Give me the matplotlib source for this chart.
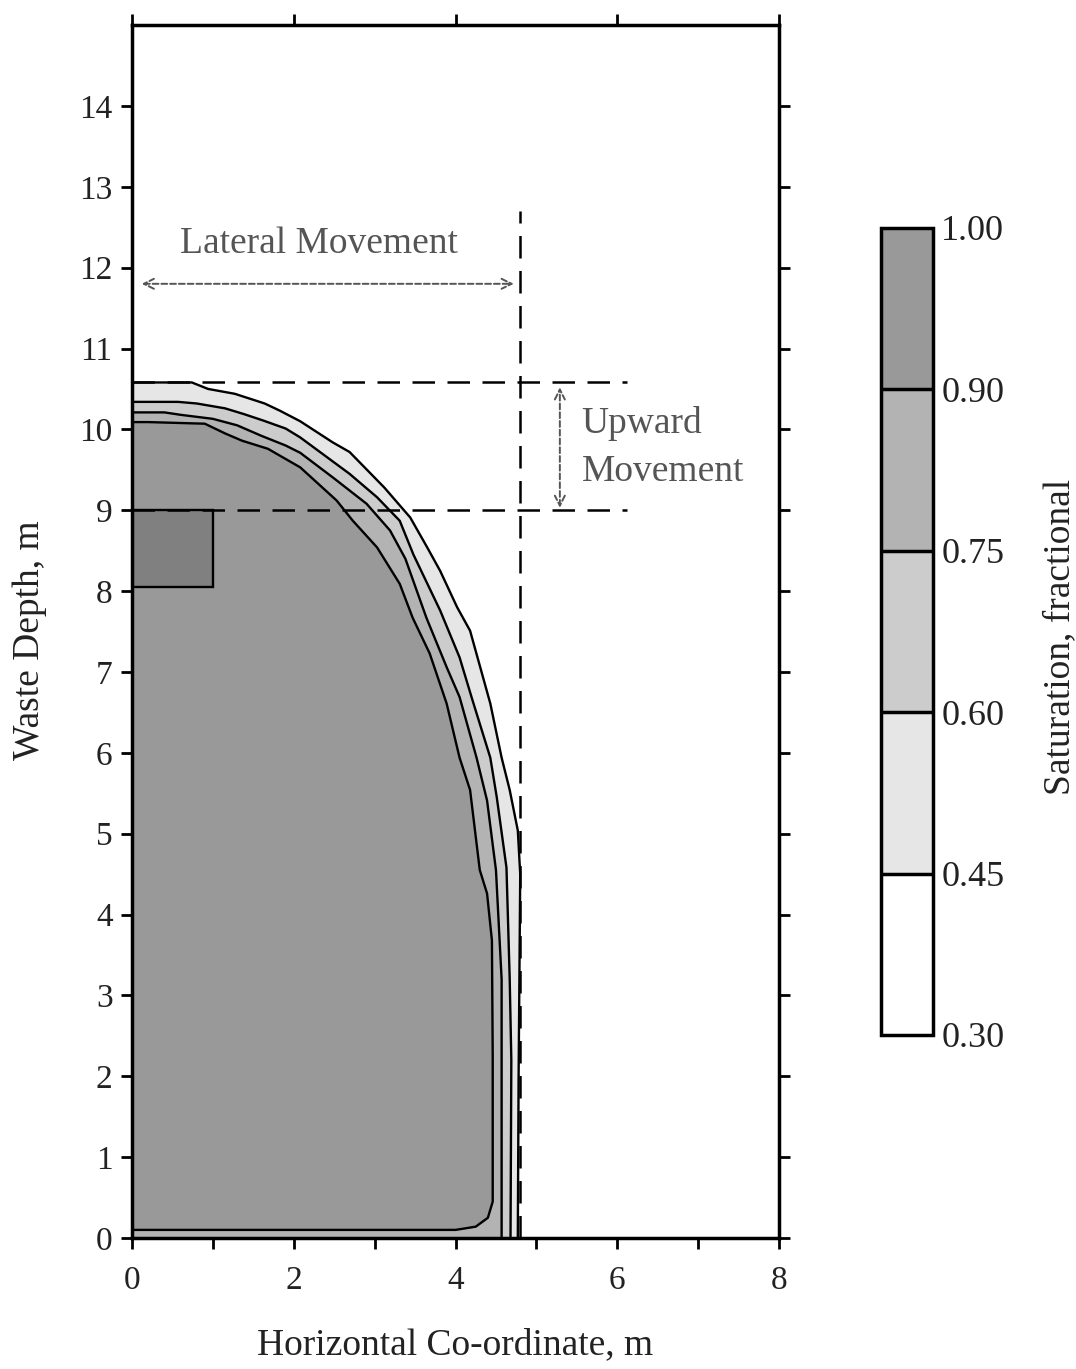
import matplotlib
matplotlib.use("Agg")
import matplotlib.pyplot as plt
from matplotlib.colors import ListedColormap, BoundaryNorm
from matplotlib.cm import ScalarMappable
from matplotlib.patches import Rectangle
from matplotlib.ticker import MultipleLocator

plt.rcParams["font.family"] = ["Liberation Serif", "DejaVu Serif"]

# saturation levels of the colour scale and their grey shades
LEVELS = [0.30, 0.45, 0.60, 0.75, 0.90, 1.00]
SHADES = ["#ffffff", "#e6e6e6", "#cccccc", "#b3b3b3", "#999999"]

# contour 0.45 (outer edge of the wetted zone): depth (m) and horizontal extent (m)
S45_DEPTH = [0, 2.0, 4.5, 5.04, 5.54, 5.94, 6.61, 7.51, 7.80, 8.25, 8.54, 8.91, 9.28,
             9.72, 9.84, 10.10, 10.23, 10.32, 10.44, 10.50, 10.58, 10.58]
S45_X = [4.77, 4.78, 4.80, 4.77, 4.67, 4.57, 4.43, 4.18, 4.02, 3.81, 3.65, 3.44, 3.12,
         2.69, 2.48, 2.08, 1.83, 1.64, 1.27, 0.94, 0.74, 0.0]

# contour 0.60
S60_DEPTH = [0, 2.2, 3.2, 4.58, 5.45, 5.94, 6.65, 7.18, 7.76, 8.45, 8.87, 9.16, 9.45,
             9.90, 10.01, 10.11, 10.19, 10.26, 10.32, 10.34, 10.34]
S60_X = [4.68, 4.69, 4.67, 4.63, 4.51, 4.43, 4.21, 4.05, 3.81, 3.48, 3.31, 3.03, 2.69,
         2.08, 1.90, 1.62, 1.38, 1.15, 0.80, 0.57, 0.0]

# contour 0.75
S75_DEPTH = [0, 2.2, 3.2, 4.55, 5.41, 5.94, 6.69, 7.06, 7.67, 8.40, 8.75, 9.08, 9.40,
             9.71, 9.80, 9.92, 10.05, 10.13, 10.18, 10.21, 10.21]
S75_X = [4.57, 4.57, 4.57, 4.50, 4.39, 4.26, 4.05, 3.89, 3.64, 3.38, 3.19, 2.90, 2.49,
         2.08, 1.90, 1.60, 1.30, 1.00, 0.60, 0.40, 0.0]

# contour 0.90 (sits just above the base)
S90_DEPTH = [0.10, 0.10, 0.14, 0.25, 0.45, 2.24, 3.68, 4.26, 4.55, 5.54, 5.94, 6.61, 7.23,
             7.67, 8.09, 8.54, 8.87, 9.12, 9.53, 9.76, 9.86, 9.95, 10.07, 10.09, 10.09]
S90_X = [0.0, 4.00, 4.25, 4.40, 4.46, 4.46, 4.45, 4.39, 4.30, 4.18, 4.05, 3.89, 3.68,
         3.47, 3.31, 3.03, 2.73, 2.53, 2.08, 1.68, 1.36, 1.15, 0.90, 0.20, 0.0]

CONTOURS = [(S45_DEPTH, S45_X), (S60_DEPTH, S60_X), (S75_DEPTH, S75_X), (S90_DEPTH, S90_X)]

# leachate source block and movement markers
SOURCE = (0.0, 8.05, 1.0, 0.95)
Y_TOP_FRONT = 10.58
Y_SOURCE_TOP = 9.0
X_LATERAL = 4.80

FS_TICK = 24
FS = 27
TXT = "#222222"
GREY = "#555555"

fig = plt.figure(figsize=(10.76, 13.69), dpi=100)
ax = fig.add_axes([0.1227, 0.0957, 0.6013, 0.886])

for (depth, xs), shade in zip(CONTOURS, SHADES[1:]):
    ax.fill_betweenx(depth, 0, xs, color=shade, lw=0, zorder=1)
for depth, xs in CONTOURS:
    ax.plot(xs, depth, color="k", lw=1.7, zorder=2)

ax.add_patch(Rectangle(SOURCE[:2], SOURCE[2], SOURCE[3], facecolor="#808080",
                       edgecolor="k", lw=1.7, zorder=3))

# reference lines
dash = dict(color="k", lw=1.8, dashes=(9, 5), zorder=4)
ax.plot([0, 6.12], [Y_TOP_FRONT, Y_TOP_FRONT], **dash)
ax.plot([0, 6.12], [Y_SOURCE_TOP, Y_SOURCE_TOP], **dash)
ax.plot([X_LATERAL, X_LATERAL], [0, 12.7], **dash)

arrow = dict(arrowstyle="<->", color=GREY, lw=1.4, linestyle=(0, (3, 1.5)),
             mutation_scale=18, shrinkA=0, shrinkB=0)
ax.annotate("", xy=(4.72, 11.8), xytext=(0.12, 11.8), arrowprops=arrow)
ax.annotate("", xy=(5.29, 10.52), xytext=(5.29, 9.03), arrowprops=arrow)
ax.text(2.31, 12.3, "Lateral Movement", ha="center", va="center", fontsize=FS, color=GREY)
ax.text(5.56, 10.07, "Upward", ha="left", va="center", fontsize=FS, color=GREY)
ax.text(5.56, 9.47, "Movement", ha="left", va="center", fontsize=FS, color=GREY)

ax.set_xlim(0, 8)
ax.set_ylim(0, 15)
ax.set_xticks(range(0, 9, 2))
ax.xaxis.set_minor_locator(MultipleLocator(1))
ax.set_yticks(range(0, 15))
ax.tick_params(which="both", direction="out", length=8, width=2, top=True, right=True,
               labelsize=FS_TICK, labelcolor=TXT, pad=6)
ax.tick_params(axis="x", pad=12)
ax.tick_params(which="minor", top=False)
for sp in ax.spines.values():
    sp.set_linewidth(2.5)
    sp.set_zorder(6)
fig.text(455 / 1076, 1 - 1345 / 1369, "Horizontal Co-ordinate, m", ha="center",
         va="center", fontsize=FS, color=TXT)
fig.text(30 / 1076, 1 - 640 / 1369, "Waste Depth, m", rotation=90, ha="center",
         va="center", fontsize=FS, color=TXT)

# colour scale
cax = fig.add_axes([0.8188, 0.2440, 0.0483, 0.5895])
cmap = ListedColormap(SHADES)
norm = BoundaryNorm(LEVELS, cmap.N)
cb = fig.colorbar(ScalarMappable(norm=norm, cmap=cmap), cax=cax, spacing="uniform",
                  drawedges=True, ticks=LEVELS)
cb.ax.set_yticklabels([f"{v:.2f}" for v in LEVELS])
cb.ax.tick_params(length=0, pad=6, labelsize=26, labelcolor=TXT)
cb.outline.set_linewidth(2.5)
cb.dividers.set_linewidth(2.5)
fig.text(1060 / 1076, 1 - 637 / 1369, "Saturation, fractional", rotation=90,
         ha="center", va="center", fontsize=FS, color=TXT)

fig.savefig("out.png", dpi=100, facecolor="white")
